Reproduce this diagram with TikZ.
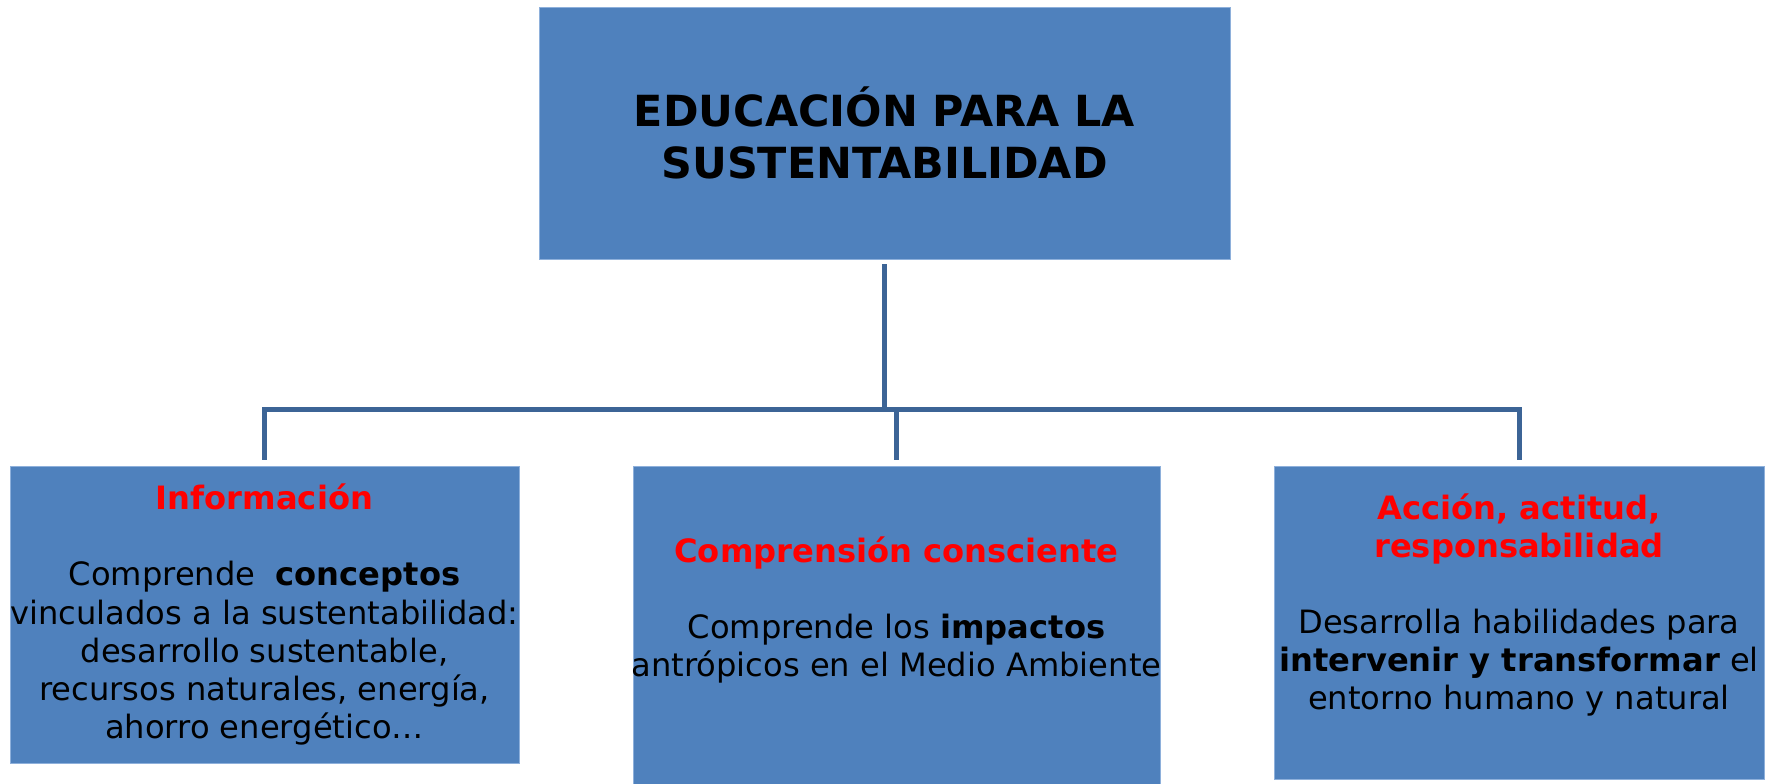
\documentclass[tikz,border=0pt]{standalone}
\usepackage{fontspec}
\setmainfont{DejaVu Sans}
\usetikzlibrary{positioning}
\definecolor{boxblue}{HTML}{4F81BD}
\definecolor{boxedge}{HTML}{8EB0DB}
\definecolor{linkblue}{HTML}{3C6496}
\newcommand{\redhead}[1]{\textcolor{red}{\textbf{#1}}}

\begin{document}
\begin{tikzpicture}[x=0.02cm, y=-0.02cm]
    \tikzset{Box/.style  = {fill=boxblue, draw=boxedge, line width=0.4pt, inner sep=0pt},
        Txt/.style  = {align=center, inner sep=0pt, font=\fontsize{18.3}{21.7}\selectfont},
        Link/.style = {draw=linkblue, line width=0.1cm}}
    \useasboundingbox (0,0) rectangle (1769,784);
    \node[Box, minimum width=13.82cm, minimum height=5.04cm, align=center,
        font=\fontsize{24.4}{29.5}\selectfont\bfseries] (edu) at (884.5,133)
        {EDUCACIÓN PARA LA\\SUSTENTABILIDAD};
    \node[Box, minimum width=10.18cm, minimum height=5.94cm] (info)   at (264.5,614.5) {};
    \node[Box, minimum width=10.54cm, minimum height=6.36cm] (compr)  at (896.5,625)   {};
    \node[Box, minimum width=9.80cm,  minimum height=6.26cm] (accion) at (1519,622.5)  {};
    \node[Txt] (info-t) at (info.center)
        {\redhead{Información}\\[\baselineskip]
         Comprende~ \textbf{conceptos}\\vinculados a la sustentabilidad:\\
         desarrollo sustentable,\\recursos naturales, energía,\\ahorro energético…};
    \node[Txt] (compr-t) at (896.5,610)
        {\redhead{Comprensión consciente}\\[\baselineskip]
         Comprende los \textbf{impactos}\\antrópicos en el Medio Ambiente};
    \node[Txt] (accion-t) at (1519,605)
        {\redhead{Acción, actitud,}\\\redhead{responsabilidad}\\[\baselineskip]
         Desarrolla habilidades para\\\textbf{intervenir y transformar} el\\
         entorno humano y natural};
    \path (edu.south) ++(0,150) coordinate (bus);
    \draw[Link, shorten <=0.1cm] (edu.south) -- (bus);
    \draw[Link, shorten >=0.12cm] (bus) -| (info.north);
    \draw[Link, shorten >=0.12cm] (bus) -| (compr.north);
    \draw[Link, shorten >=0.12cm] (bus) -| (accion.north);
\end{tikzpicture}
\end{document}
